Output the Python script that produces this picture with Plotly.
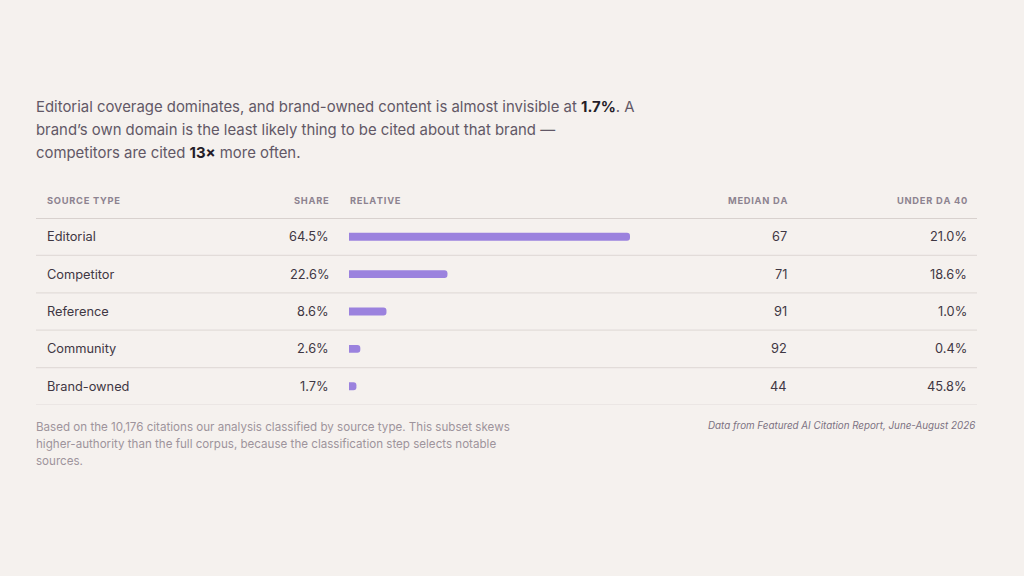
import plotly.graph_objects as go

# table data
source_types = ['Editorial', 'Competitor', 'Reference', 'Community', 'Brand-owned']
share = [64.5, 22.6, 8.6, 2.6, 1.7]
median_da = [67, 71, 91, 92, 44]
under_da40 = [21.0, 18.6, 1.0, 0.4, 45.8]
headers = ['SOURCE TYPE', 'SHARE', 'RELATIVE', 'MEDIAN DA', 'UNDER DA 40']

title_lines = [
    'Editorial coverage dominates, and brand-owned content is almost invisible at <b>1.7%</b>. A',
    'brand\u2019s own domain is the least likely thing to be cited about that brand \u2014',
    'competitors are cited <b>13\u00d7</b> more often.',
]
note_lines = [
    'Based on the 10,176 citations our analysis classified by source type. This subset skews',
    'higher-authority than the full corpus, because the classification step selects notable',
    'sources.',
]
source_note = 'Data from Featured AI Citation Report, June-August 2026'

W, H = 1024, 576
bg = '#f5f1ee'
font = 'Inter'
bar_col = '#9b82de'

def px_x(p):
    return p / W

def px_y(p):
    return 1 - p / H

def spaced(s):
    # fake letter spacing for the small caps headers
    return '\u200a'.join(list(s))

n = len(source_types)
rows = list(range(n))

fig = go.Figure()
fig.add_bar(x=share, y=rows, orientation='h', width=0.21,
            marker=dict(color=bar_col, cornerradius=4, line=dict(width=0)),
            hoverinfo='skip')

# table body spans 218px..405px
fig.update_layout(
    width=W, height=H,
    paper_bgcolor=bg, plot_bgcolor='rgba(0,0,0,0)',
    margin=dict(l=0, r=0, t=0, b=0),
    showlegend=False,
    xaxis=dict(domain=[px_x(349), px_x(630)], range=[0, max(share)],
               visible=False, fixedrange=True),
    yaxis=dict(domain=[px_y(405), px_y(218)], range=[n - 0.5, -0.5],
               visible=False, fixedrange=True),
)

# row separators
for i in rows:
    fig.add_shape(type='line', xref='paper', yref='y',
                  x0=px_x(36), x1=px_x(977), y0=i + 0.5, y1=i + 0.5,
                  line=dict(color='#e2dcd9', width=1.2))
# header rule
fig.add_shape(type='line', xref='paper', yref='y',
              x0=px_x(36), x1=px_x(977), y0=-0.5, y1=-0.5,
              line=dict(color='#d8d1ce', width=2))

# headers
hdr_pos = [(47, 'left'), (329, 'right'), (350, 'left'), (787, 'right'), (967, 'right')]
for h, (xp, al) in zip(headers, hdr_pos):
    fig.add_annotation(text='<b>' + spaced(h) + '</b>', xref='paper', yref='paper',
                       x=px_x(xp), y=px_y(200), xanchor=al, yanchor='middle',
                       showarrow=False, font=dict(family=font, size=9.3, color='#8d8390'))

cell_font = dict(family=font, size=12.8, color='#3f3743')
for i in rows:
    fig.add_annotation(text=source_types[i], xref='paper', yref='y', x=px_x(47), y=i,
                       xanchor='left', yanchor='middle', showarrow=False, font=cell_font)
    fig.add_annotation(text=f'{share[i]:.1f}%', xref='paper', yref='y', x=px_x(329), y=i,
                       xanchor='right', yanchor='middle', showarrow=False, font=cell_font)
    fig.add_annotation(text=str(median_da[i]), xref='paper', yref='y', x=px_x(787), y=i,
                       xanchor='right', yanchor='middle', showarrow=False, font=cell_font)
    fig.add_annotation(text=f'{under_da40[i]:.1f}%', xref='paper', yref='y', x=px_x(967), y=i,
                       xanchor='right', yanchor='middle', showarrow=False, font=cell_font)

# intro text
for k, line in enumerate(title_lines):
    fig.add_annotation(text=line.replace('<b>', '<b><span style="color:#241c28">'
                                         ).replace('</b>', '</span></b>'),
                       xref='paper', yref='paper', x=px_x(36), y=px_y(107 + 23 * k),
                       xanchor='left', yanchor='middle', showarrow=False,
                       font=dict(family=font, size=14.9, color='#625866'))

# footnotes
for k, line in enumerate(note_lines):
    fig.add_annotation(text=line, xref='paper', yref='paper', x=px_x(36), y=px_y(427 + 17 * k),
                       xanchor='left', yanchor='middle', showarrow=False,
                       font=dict(family=font, size=11.6, color='#9e949c'))
fig.add_annotation(text='<i>' + source_note + '</i>', xref='paper', yref='paper',
                   x=px_x(975), y=px_y(425), xanchor='right', yanchor='middle',
                   showarrow=False, font=dict(family=font, size=9.8, color='#7c7282'))

# no padding around annotation text so it lines up with the pixel positions
fig.update_annotations(borderpad=0, borderwidth=0)

fig.write_html('out.html', config={'displayModeBar': False},
               post_script="document.body.style.margin='0';")
